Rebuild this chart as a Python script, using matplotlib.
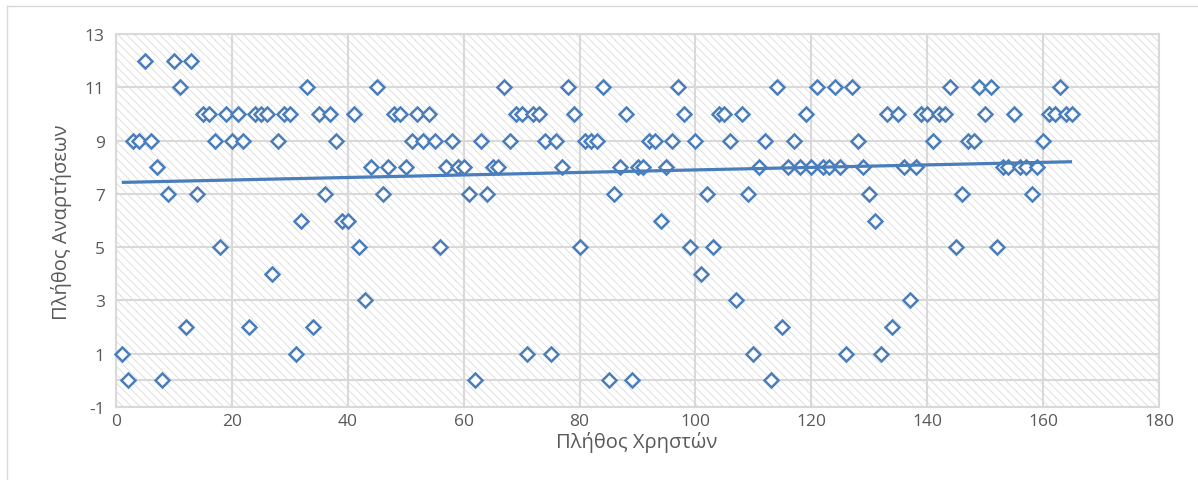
import numpy as np
import matplotlib
matplotlib.use("Agg")
import matplotlib.pyplot as plt
from matplotlib.patches import Rectangle
from matplotlib.lines import Line2D

plt.rcParams['font.family'] = ['Open Sans', 'DejaVu Sans']
plt.rcParams['axes.unicode_minus'] = False

# Users (x) and posts per user (y)
users = list(range(1, 166))
posts = [
    1, 0, 9, 9, 12, 9, 8, 0, 7, 12,
    11, 2, 12, 7, 10, 10, 9, 5, 10, 9,
    10, 9, 2, 10, 10, 10, 4, 9, 10, 10,
    1, 6, 11, 2, 10, 7, 10, 9, 6, 6,
    10, 5, 3, 8, 11, 7, 8, 10, 10, 8,
    9, 10, 9, 10, 9, 5, 8, 9, 8, 8,
    7, 0, 9, 7, 8, 8, 11, 9, 10, 10,
    1, 10, 10, 9, 1, 9, 8, 11, 10, 5,
    9, 9, 9, 11, 0, 7, 8, 10, 0, 8,
    8, 9, 9, 6, 8, 9, 11, 10, 5, 9,
    4, 7, 5, 10, 10, 9, 3, 10, 7, 1,
    8, 9, 0, 11, 2, 8, 9, 8, 10, 8,
    11, 8, 8, 11, 8, 1, 11, 9, 8, 7,
    6, 1, 10, 2, 10, 8, 3, 8, 10, 10,
    9, 10, 10, 11, 5, 7, 9, 9, 11, 10,
    11, 5, 8, 8, 10, 8, 8, 7, 8, 9,
    10, 10, 11, 10, 10,
]
x_ticks = list(range(0, 181, 20))
y_ticks = list(range(-1, 14, 2))
x_label = "Πλήθος Χρηστών"
y_label = "Πλήθος Αναρτήσεων"

W, H = 1198, 481
blue = "#4a7ebb"
grid = "#d9d9d9"
text_c = "#595959"

fig = plt.figure(figsize=(W / 100, H / 100), dpi=100)
fig.patch.set_facecolor("white")

# chart frame
fig.add_artist(Line2D([7 / W, 7 / W], [0, 1 - 7 / H], transform=fig.transFigure,
                      color=grid, lw=1.0))
fig.add_artist(Line2D([7 / W, 1], [1 - 7 / H, 1 - 7 / H], transform=fig.transFigure,
                      color=grid, lw=1.0))

left, right, top, bottom = 116, 1159, 35, 408
ax = fig.add_axes([left / W, 1 - bottom / H, (right - left) / W, (bottom - top) / H])
ax.set_facecolor("white")

# hatched plot area
plt.rcParams['hatch.linewidth'] = 0.6
ax.add_patch(Rectangle((0, 0), 1, 1, transform=ax.transAxes, facecolor="white",
                       edgecolor="#dcdcdc", hatch="\\\\\\\\", lw=0, zorder=0))

ax.set_xlim(0, 180)
ax.set_ylim(-1, 13)
ax.set_xticks(x_ticks)
ax.set_yticks(y_ticks)
ax.grid(True, color=grid, lw=1.5, zorder=1)
ax.set_axisbelow(True)
ax.axhline(0, color=grid, lw=1.5, zorder=1)
for s in ax.spines.values():
    s.set_color(grid)
    s.set_linewidth(1.5)
ax.tick_params(axis="x", length=0, labelsize=12.5, labelcolor=text_c, pad=4)
ax.tick_params(axis="y", length=0, labelsize=12.5, labelcolor=text_c, pad=8)

ax.plot(users, posts, linestyle="none", marker="D", markersize=7.6,
        markerfacecolor="white", markeredgecolor=blue, markeredgewidth=1.8,
        zorder=3, clip_on=False)

# linear trend line
xs = np.array(users, dtype=float)
ys = np.array(posts, dtype=float)
k, b = np.polyfit(xs, ys, 1)
tx = np.array([xs.min(), xs.max()])
ax.plot(tx, k * tx + b, color=blue, lw=2.3, zorder=4, solid_capstyle="butt")

fig.text(637 / W, 1 - 443 / H, x_label, fontsize=14.5, color=text_c,
         ha="center", va="center")
fig.text(62 / W, 1 - 222 / H, y_label, fontsize=14.5, color=text_c,
         ha="center", va="center", rotation=90)

fig.savefig("out.png", dpi=100)
